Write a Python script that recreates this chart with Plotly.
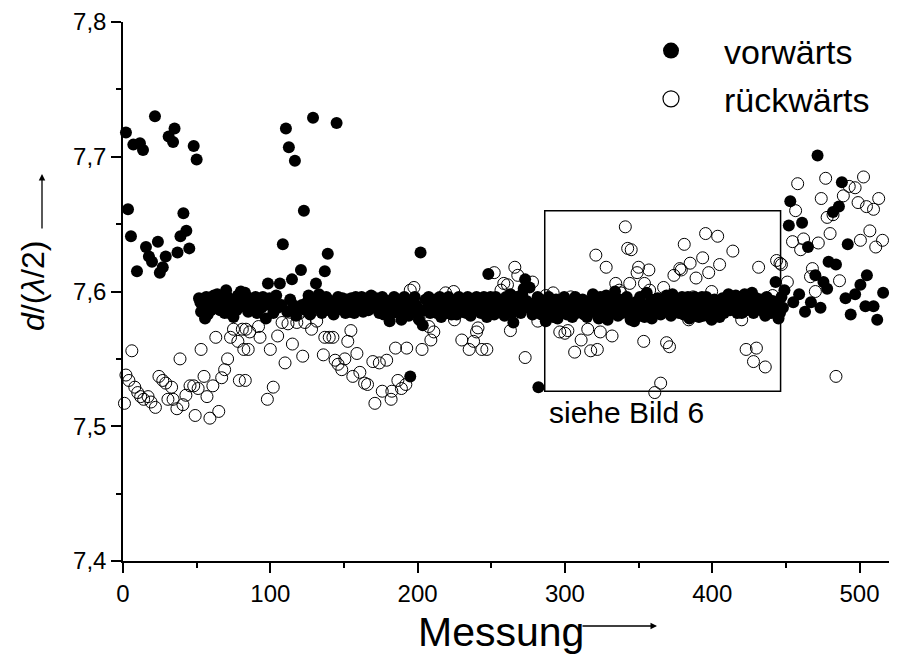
import plotly.graph_objects as go

# ---------------- data ----------------
# forward measurements ("vorwärts"): outliers and individual points
vor_x = [2, 3.4, 5.4, 7, 9.5, 11.5, 13.6, 15.6, 17.6, 19.7, 21.7, 23.7, 25, 27, 29, 31, 34, 35, 37, 39,
         41, 43, 45, 48, 50, 51.6, 54, 55.7, 59.7, 61.7, 65, 70, 72, 75, 76, 80, 81, 82.8, 87.5, 92,
         97, 98.4, 101, 103, 105, 106.5, 108.5, 110.6, 112.6, 114.7, 116.7, 119, 120.8, 122.8, 125, 128, 129, 131, 133, 135,
         137, 139, 141, 143, 145, 149, 155, 157, 163, 165.5, 170, 173, 177, 181, 184, 189, 192, 195, 199, 202,
         203.5, 205.5, 211, 216, 219, 224.5, 228, 231, 238, 243, 248, 248.5, 252, 257, 261, 265, 270, 273, 276, 278,
         281.5, 282, 285, 287, 292, 296.5, 300.5, 305, 311, 315, 321, 325.6, 329, 332, 338, 344.6, 347, 352, 355.5, 360,
         368, 370, 374.5, 380.6, 386, 391, 395, 399.6, 403, 406, 413, 415, 420, 427, 429, 432, 438, 443, 445, 448,
         449, 452, 453, 455, 459, 461, 463, 465, 467, 470, 471.5, 473.5, 475.5, 478, 479, 482, 484, 486, 488, 490.5,
         492, 494, 497, 500.6, 504, 505, 509.5, 512, 516]
vor_y = [7.718, 7.661, 7.641, 7.709, 7.615, 7.710, 7.705, 7.633, 7.626, 7.622, 7.730, 7.637, 7.614, 7.618, 7.626, 7.715, 7.711, 7.721, 7.629, 7.641,
         7.658, 7.645, 7.632, 7.708, 7.698, 7.595, 7.589, 7.580, 7.586, 7.597, 7.592, 7.601, 7.584, 7.581, 7.594, 7.600, 7.589, 7.599, 7.586, 7.593,
         7.580, 7.606, 7.589, 7.592, 7.588, 7.606, 7.635, 7.721, 7.707, 7.609, 7.697, 7.588, 7.616, 7.660, 7.592, 7.590, 7.729, 7.606, 7.598, 7.584,
         7.615, 7.628, 7.593, 7.583, 7.725, 7.595, 7.595, 7.584, 7.585, 7.595, 7.594, 7.590, 7.583, 7.578, 7.596, 7.579, 7.592, 7.537, 7.590, 7.629,
         7.575, 7.594, 7.589, 7.581, 7.590, 7.592, 7.596, 7.585, 7.591, 7.584, 7.613, 7.591, 7.583, 7.592, 7.588, 7.577, 7.584, 7.609, 7.603, 7.583,
         7.596, 7.529, 7.589, 7.578, 7.581, 7.586, 7.589, 7.581, 7.589, 7.581, 7.594, 7.585, 7.579, 7.592, 7.588, 7.579, 7.578, 7.590, 7.599, 7.583,
         7.594, 7.585, 7.594, 7.583, 7.589, 7.581, 7.590, 7.579, 7.585, 7.589, 7.596, 7.589, 7.584, 7.599, 7.589, 7.592, 7.592, 7.607, 7.580, 7.588,
         7.601, 7.649, 7.667, 7.592, 7.598, 7.651, 7.585, 7.633, 7.592, 7.612, 7.701, 7.588, 7.607, 7.602, 7.622, 7.659, 7.620, 7.663, 7.681, 7.595,
         7.635, 7.583, 7.598, 7.605, 7.589, 7.612, 7.589, 7.579, 7.599]

# forward measurements inside the dense band
vor_band_x = [52.5, 53, 56.5, 57.5, 58.5, 60.5, 63, 64, 66, 67, 68, 69, 71, 73, 74, 77, 78, 79, 84, 85,
              86, 89, 90, 91, 94, 95, 96, 99.5, 102, 104, 107.5, 111.5, 113.5, 115.5, 117.5, 121.5, 124, 126, 127, 130,
              132, 134, 136, 138, 140, 142, 144, 146, 147, 148, 150, 151, 152, 153, 154, 156, 158, 159, 160, 161,
              162, 164, 166.5, 167.5, 168.5, 171, 172, 174, 175, 176, 178, 179, 180, 182, 183, 185, 186, 187, 188, 190,
              191, 193, 194, 196, 197, 198, 200, 201, 204.5, 206.5, 207.5, 208.5, 209.5, 212, 213, 214, 215, 217, 218, 220,
              221, 222, 223, 225.5, 226.5, 227, 229, 230, 232, 233, 234, 235, 236, 237, 239, 240, 241, 242, 244, 245,
              246, 247, 249.5, 250.5, 251, 253, 254, 255, 256, 259, 260, 262, 263, 264, 266, 267, 268, 269, 271, 272,
              274, 275, 277, 279, 280, 283, 284, 286, 288, 289, 290, 291, 293, 294, 295, 297.5, 298.5, 299.5, 301.5, 302.5,
              303.5, 306, 307, 308, 309, 310, 312, 313, 314, 316, 317, 318, 319, 320, 322, 323, 324, 326.5, 327.5, 328,
              330, 331, 333, 334, 335, 336, 337, 339, 340, 341, 342, 343, 345.5, 346, 348, 349, 350, 351, 353, 354,
              356.5, 357.5, 358.5, 359, 361, 362, 363, 364, 365, 366, 367, 369, 371, 372, 373, 375.5, 376.5, 377.5, 378.5, 379.5,
              381.6, 382.5, 383.5, 384.5, 385.2, 387, 388, 389, 390, 392, 393, 394, 396, 397, 398, 400.5, 401.5, 402, 404, 405,
              407, 408, 409, 410, 411, 412, 414, 416, 417, 418, 419, 421, 422, 423, 424, 425, 426, 428, 430, 431,
              433, 434, 435, 436, 437, 439, 440, 441, 442, 444, 446, 447]
vor_band_y = [7.592, 7.585, 7.596, 7.583, 7.592, 7.594, 7.588, 7.598, 7.586, 7.595, 7.590, 7.584, 7.596, 7.592, 7.588, 7.586, 7.597, 7.592, 7.592, 7.585,
              7.595, 7.590, 7.596, 7.584, 7.588, 7.596, 7.590, 7.595, 7.584, 7.597, 7.590, 7.585, 7.594, 7.590, 7.582, 7.590, 7.586, 7.597, 7.583, 7.594,
              7.588, 7.592, 7.590, 7.596, 7.586, 7.590, 7.592, 7.596, 7.587, 7.592, 7.590, 7.584, 7.594, 7.589, 7.585, 7.590, 7.596, 7.588, 7.593, 7.586,
              7.596, 7.590, 7.586, 7.592, 7.597, 7.588, 7.595, 7.584, 7.592, 7.596, 7.590, 7.586, 7.593, 7.588, 7.584, 7.590, 7.586, 7.594, 7.588, 7.584,
              7.596, 7.586, 7.582, 7.592, 7.586, 7.596, 7.584, 7.579, 7.586, 7.588, 7.596, 7.584, 7.591, 7.594, 7.584, 7.590, 7.596, 7.588, 7.594, 7.584,
              7.596, 7.588, 7.583, 7.587, 7.583, 7.590, 7.589, 7.594, 7.591, 7.584, 7.596, 7.588, 7.582, 7.594, 7.586, 7.596, 7.590, 7.588, 7.592, 7.596,
              7.586, 7.581, 7.596, 7.586, 7.590, 7.596, 7.588, 7.594, 7.585, 7.582, 7.596, 7.592, 7.598, 7.584, 7.590, 7.596, 7.588, 7.593, 7.598, 7.602,
              7.593, 7.588, 7.590, 7.586, 7.592, 7.594, 7.583, 7.592, 7.587, 7.596, 7.584, 7.590, 7.588, 7.594, 7.580, 7.592, 7.584, 7.596, 7.583, 7.592,
              7.587, 7.590, 7.596, 7.584, 7.590, 7.586, 7.594, 7.583, 7.590, 7.588, 7.593, 7.585, 7.598, 7.589, 7.588, 7.580, 7.596, 7.592, 7.588, 7.597,
              7.584, 7.596, 7.585, 7.600, 7.590, 7.582, 7.594, 7.584, 7.592, 7.586, 7.596, 7.588, 7.590, 7.584, 7.592, 7.586, 7.582, 7.596, 7.588, 7.581,
              7.590, 7.586, 7.594, 7.580, 7.590, 7.586, 7.595, 7.589, 7.583, 7.592, 7.588, 7.597, 7.590, 7.582, 7.598, 7.588, 7.592, 7.584, 7.590, 7.596,
              7.590, 7.586, 7.596, 7.580, 7.592, 7.584, 7.596, 7.588, 7.592, 7.586, 7.596, 7.582, 7.596, 7.586, 7.592, 7.588, 7.594, 7.582, 7.592, 7.581,
              7.595, 7.584, 7.592, 7.588, 7.598, 7.586, 7.592, 7.597, 7.584, 7.592, 7.596, 7.590, 7.598, 7.586, 7.592, 7.588, 7.595, 7.584, 7.595, 7.587,
              7.594, 7.586, 7.590, 7.582, 7.596, 7.588, 7.584, 7.593, 7.586, 7.590, 7.584, 7.596]

# backward measurements ("rückwärts")
rueck_x = [1, 2, 4, 6, 8, 10, 12, 14, 17, 19, 22, 24.4, 27, 29, 30.5, 33, 34, 36.6, 38.7, 40.7,
           42.7, 45.5, 48, 49, 51, 53, 55, 57, 59, 61, 63, 65, 67, 69, 71, 73, 75, 78, 79, 81,
           82, 83, 83.5, 85, 86, 92, 93, 98, 100, 102, 105, 108, 110, 112, 113, 115, 118, 120, 122, 123.5,
           127, 128, 131.5, 134, 136, 137, 140, 142.5, 144, 146, 148.5, 150.6, 152.6, 154.7, 156, 158.8, 160.8, 164, 166, 169.6,
           171, 174, 176, 179, 182, 182.5, 185, 186.6, 189, 192, 192.6, 195, 197.5, 201, 203, 207.6, 209, 211, 219, 224.5,
           225, 230, 235, 238, 240, 241, 243.6, 247, 252, 256.6, 258.5, 261, 263, 266, 268, 269, 273, 278, 281.6, 287,
           292, 296.5, 300, 302, 304, 306.6, 311, 315.5, 317.5, 321, 322, 324, 328, 332, 334.5, 337, 338, 341, 342.6, 344,
           345, 349, 350, 353.5, 354, 357, 357.5, 361, 365, 367, 369, 371, 374, 378, 379, 381, 384, 385, 387, 389,
           393.5, 395.5, 397.6, 399.6, 403.7, 405, 414, 420, 423, 428, 430, 431.5, 435, 436, 441, 443.7, 446, 447, 451, 454.5,
           456.6, 458, 460, 462, 466.7, 468, 470, 472, 474, 477, 478, 480, 482, 484, 486.4, 489, 493, 497, 499, 500.6,
           502.7, 504.7, 507, 509.5, 511, 513, 515.6]
rueck_y = [7.517, 7.538, 7.534, 7.556, 7.529, 7.525, 7.522, 7.520, 7.522, 7.518, 7.514, 7.537, 7.534, 7.532, 7.520, 7.529, 7.520, 7.513, 7.550, 7.516,
           7.523, 7.530, 7.530, 7.508, 7.528, 7.557, 7.537, 7.522, 7.506, 7.530, 7.566, 7.511, 7.536, 7.542, 7.550, 7.566, 7.572, 7.563, 7.534, 7.572,
           7.557, 7.534, 7.572, 7.557, 7.570, 7.574, 7.566, 7.520, 7.557, 7.529, 7.567, 7.577, 7.547, 7.576, 7.590, 7.561, 7.577, 7.584, 7.552, 7.577,
           7.584, 7.572, 7.578, 7.588, 7.553, 7.566, 7.566, 7.566, 7.549, 7.546, 7.542, 7.550, 7.563, 7.571, 7.537, 7.554, 7.540, 7.532, 7.531, 7.548,
           7.517, 7.547, 7.526, 7.549, 7.520, 7.526, 7.558, 7.534, 7.528, 7.531, 7.558, 7.601, 7.603, 7.580, 7.557, 7.574, 7.564, 7.570, 7.599, 7.600,
           7.579, 7.564, 7.557, 7.563, 7.570, 7.573, 7.557, 7.557, 7.614, 7.601, 7.606, 7.605, 7.571, 7.618, 7.612, 7.592, 7.551, 7.607, 7.578, 7.597,
           7.599, 7.570, 7.569, 7.571, 7.596, 7.555, 7.564, 7.572, 7.556, 7.627, 7.557, 7.570, 7.618, 7.567, 7.606, 7.601, 7.599, 7.648, 7.632, 7.606,
           7.631, 7.614, 7.618, 7.563, 7.606, 7.616, 7.601, 7.525, 7.532, 7.603, 7.562, 7.559, 7.612, 7.617, 7.616, 7.635, 7.579, 7.621, 7.596, 7.610,
           7.625, 7.643, 7.614, 7.600, 7.641, 7.620, 7.630, 7.579, 7.557, 7.548, 7.558, 7.618, 7.585, 7.544, 7.597, 7.623, 7.621, 7.620, 7.607, 7.637,
           7.660, 7.680, 7.631, 7.639, 7.611, 7.617, 7.600, 7.636, 7.669, 7.684, 7.655, 7.643, 7.657, 7.537, 7.608, 7.671, 7.678, 7.677, 7.666, 7.638,
           7.685, 7.663, 7.645, 7.661, 7.633, 7.669, 7.638]

series_names = ["vorwärts", "rückwärts"]
x_ticks = [0, 100, 200, 300, 400, 500]
y_ticks = [7.4, 7.5, 7.6, 7.7, 7.8]
y_ticktext = ["7,4", "7,5", "7,6", "7,7", "7,8"]

FONT = "Liberation Sans, Arial, sans-serif"

fig = go.Figure()
fig.add_trace(go.Scatter(x=rueck_x, y=rueck_y, mode="markers", showlegend=False, cliponaxis=False,
                         marker=dict(symbol="circle-open", size=12, color="black", line=dict(width=1, color="black"))))
fig.add_trace(go.Scatter(x=vor_x + vor_band_x, y=vor_y + vor_band_y, mode="markers", showlegend=False, cliponaxis=False,
                         marker=dict(symbol="circle", size=12, color="black")))
# legend entries
fig.add_trace(go.Scatter(x=[None], y=[None], mode="markers", name=series_names[0], legendgroup="a",
                         marker=dict(symbol="circle", size=16, color="black")))
fig.add_trace(go.Scatter(x=[None], y=[None], mode="markers", name=series_names[1], legendgroup="b",
                         marker=dict(symbol="circle-open", size=16, color="black", line=dict(width=1.2, color="black"))))

fig.add_shape(type="rect", xref="x", yref="y", x0=286.3, x1=446.4, y0=7.526, y1=7.660,
              line=dict(color="black", width=1.5), fillcolor="rgba(0,0,0,0)")

W, H = 898, 658
OFF = 8  # page body margin
L, R, T, B = 115, 17, 14, 105
pw, ph = W - L - R, H - T - B

def px2paper(px, py):
    return ((px - OFF) - L) / pw, (H - B - (py - OFF)) / ph

annotations = []
annotations.append(dict(x=288, y=7.51, xref="x", yref="y", text="siehe Bild 6", showarrow=False,
                        xanchor="left", yanchor="middle", font=dict(family=FONT, size=30, color="black")))
mx, my = px2paper(501, 632)
annotations.append(dict(x=mx, y=my, xref="paper", yref="paper", text="Messung", showarrow=False,
                        xanchor="center", yanchor="middle", font=dict(family=FONT, size=41, color="black")))
hx, hy = px2paper(657, 626)
annotations.append(dict(x=hx, y=hy, xref="paper", yref="paper", text="", showarrow=True, ax=-76, ay=0,
                        arrowhead=2, arrowsize=1, arrowwidth=1.3, arrowcolor="black"))
lx, ly = px2paper(33, 286)
annotations.append(dict(x=lx, y=ly, xref="paper", yref="paper", text="<i>d</i>/(<i>λ</i>/2)", showarrow=False,
                        textangle=-90, xanchor="center", yanchor="middle", font=dict(family=FONT, size=32, color="black")))
vx, vy = px2paper(42, 174)
annotations.append(dict(x=vx, y=vy, xref="paper", yref="paper", text="", showarrow=True, ax=0, ay=56,
                        arrowhead=2, arrowsize=1, arrowwidth=1.3, arrowcolor="black"))

leg_x, _ = px2paper(618, 22)
fig.update_layout(
    width=W, height=H, margin=dict(l=L, r=R, t=T, b=B, autoexpand=False),
    plot_bgcolor="white", paper_bgcolor="white",
    font=dict(family=FONT, color="black"),
    annotations=annotations,
    legend=dict(x=leg_x, y=1.0, xanchor="left", yanchor="top", bgcolor="rgba(0,0,0,0)",
                font=dict(family=FONT, size=34, color="black"), itemwidth=96,
                traceorder="grouped", tracegroupgap=1),
    xaxis=dict(range=[0, 520], showgrid=False, zeroline=False, showline=True, linecolor="black", linewidth=1.5,
               ticks="outside", ticklen=10, tickwidth=1.5, tickcolor="black", tickvals=x_ticks,
               tickfont=dict(family=FONT, size=24, color="black"),
               minor=dict(ticks="outside", ticklen=5, tickwidth=1.5, tickcolor="black", dtick=50, tick0=0)),
    yaxis=dict(range=[7.4, 7.8], showgrid=False, zeroline=False, showline=True, linecolor="black", linewidth=1.5,
               ticks="outside", ticklen=10, tickwidth=1.5, tickcolor="black", tickvals=y_ticks, ticktext=y_ticktext,
               tickfont=dict(family=FONT, size=24, color="black"),
               minor=dict(ticks="outside", ticklen=5, tickwidth=1.5, tickcolor="black", dtick=0.05, tick0=7.4)),
)

fig.write_html("out.html")
